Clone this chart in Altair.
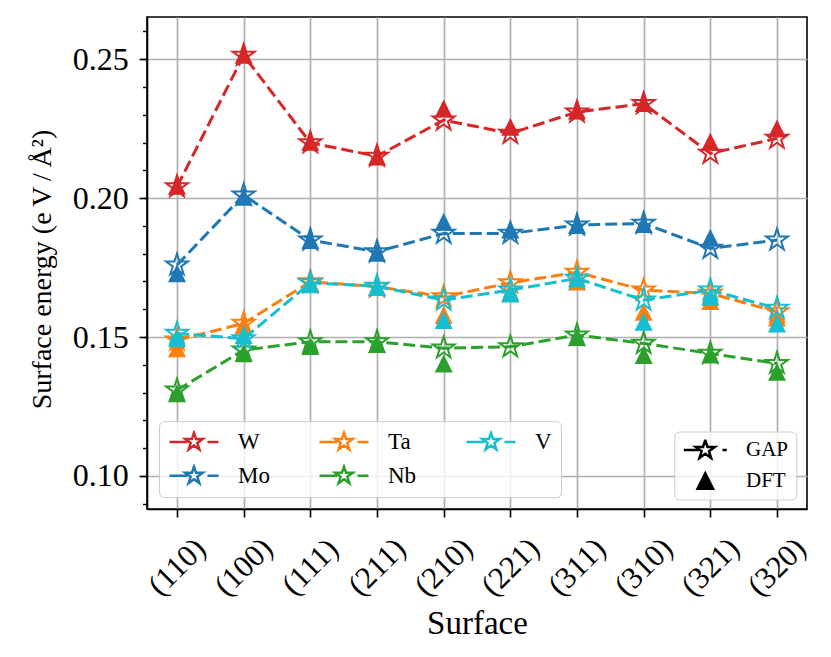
import math
import altair as alt
import pandas as pd

# ---------------- data ----------------
surfaces = ["(110)", "(100)", "(111)", "(211)", "(210)",
            "(221)", "(311)", "(310)", "(321)", "(320)"]
elements = ["W", "Mo", "Ta", "Nb", "V"]
element_colors = {"W": "#d62728", "Mo": "#1f77b4", "Ta": "#ff7f0e",
                  "Nb": "#2ca02c", "V": "#17becf"}

W_gap = [0.2041, 0.2514, 0.2199, 0.2151, 0.2281, 0.2233, 0.2310, 0.2340, 0.2161, 0.2215]
W_dft = [0.2045, 0.2516, 0.2203, 0.2150, 0.2323, 0.2257, 0.2315, 0.2342, 0.2203, 0.2251]
Mo_gap = [0.1759, 0.2011, 0.1849, 0.1807, 0.1873, 0.1873, 0.1903, 0.1909, 0.1819, 0.1849]
Mo_dft = [0.1730, 0.2005, 0.1849, 0.1803, 0.1915, 0.1887, 0.1903, 0.1907, 0.1857, None]
Ta_gap = [0.1489, 0.1549, 0.1699, 0.1681, 0.1645, 0.1695, 0.1733, 0.1669, 0.1657, 0.1591]
Ta_dft = [0.1460, 0.1543, 0.1695, 0.1680, 0.1579, 0.1660, 0.1700, 0.1591, 0.1630, 0.1570]
Nb_gap = [0.1309, 0.1453, 0.1483, 0.1483, 0.1460, 0.1465, 0.1507, 0.1477, 0.1441, 0.1405]
Nb_dft = [0.1298, 0.1442, 0.1468, 0.1475, 0.1405, None, 0.1500, 0.1435, 0.1437, 0.1375]
V_gap = [0.1513, 0.1494, 0.1695, 0.1683, 0.1633, 0.1669, 0.1711, 0.1633, 0.1669, 0.1603]
V_dft = [0.1496, 0.1507, 0.1690, 0.1680, 0.1561, 0.1657, 0.1712, 0.1555, 0.1645, 0.1549]

gap = {"W": W_gap, "Mo": Mo_gap, "Ta": Ta_gap, "Nb": Nb_gap, "V": V_gap}
dft = {"W": W_dft, "Mo": Mo_dft, "Ta": Ta_dft, "Nb": Nb_dft, "V": V_dft}

methods = ["GAP", "DFT"]

y_ticks = [0.10, 0.15, 0.20, 0.25]
y_minor = [0.09, 0.10, 0.11, 0.12, 0.13, 0.14, 0.15, 0.16, 0.17,
           0.18, 0.19, 0.20, 0.21, 0.22, 0.23, 0.24, 0.25, 0.26]

rows = []
for el in elements:
    for i, s in enumerate(surfaces):
        rows.append({"element": el, "surface": s, "idx": i,
                     "method": "GAP", "energy": gap[el][i]})
        if dft[el][i] is not None:
            rows.append({"element": el, "surface": s, "idx": i,
                         "method": "DFT", "energy": dft[el][i]})
df = pd.DataFrame(rows)

# ---------------- marker glyphs ----------------
def star(r):
    pts = []
    for k in range(10):
        ang = math.radians(-90 + 36 * k)
        rad = r if k % 2 == 0 else r * 0.381966
        pts.append(f"{rad * math.cos(ang):.4f},{rad * math.sin(ang):.4f}")
    return "M" + "L".join(pts) + "Z"

def solid_triangle(s):
    # nested outlines so that a stroked symbol reads as a filled triangle
    parts = []
    k = s
    while k > 0.01:
        parts.append(f"M0,{-k:.3f}L{k:.3f},{k:.3f}L{-k:.3f},{k:.3f}Z")
        k -= 0.06
    return "".join(parts)

STAR_MARK = star(1.0)
TRI_MARK = "M0,-1L1,1L-1,1Z"
COLOR_GLYPH = "M-1,0L-0.28,0M0.55,0L1,0" + star(0.375)
GAP_GLYPH = "M-1,0L-0.3,0M0.8,0L1,0" + star(0.465)
TRI_GLYPH = solid_triangle(0.36)

FONT = "Liberation Serif"

# ---------------- scales / axes ----------------
y_scale = alt.Scale(domain=[0.0881, 0.2652], nice=False, zero=False)
x_scale = alt.Scale(type="point", padding=0.45)
stroke_scale = alt.Scale(domain=elements,
                         range=[element_colors[e] for e in elements])

x_axis = alt.Axis(
    title="Surface", labelAngle=315, labelAlign="center", labelBaseline="middle",
    labelPadding=50, labelFont=FONT, labelFontSize=31, labelOverlap=False,
    labelFlush=False, tickSize=8, grid=True, titleFont=FONT, titleFontSize=33,
    titleX=330, titleY=124, titleBaseline="alphabetic",
)
y_axis = alt.Axis(
    title="Surface energy (e\u2009V\u2009/\u2009Å²)", values=y_ticks, format=".2f",
    labelFont=FONT, labelFontSize=32, labelPadding=10.7, tickSize=8, grid=True,
    titleFont=FONT, titleFontSize=28, titleX=-97, titleY=252, titleAngle=270,
    titleBaseline="alphabetic", titleAlign="center",
)
minor_axis = alt.Axis(
    values=y_minor, labels=False, ticks=True, tickSize=4.5, tickWidth=1.4,
    grid=False, domain=False, title=None, orient="left",
)

x_enc = alt.X("surface:N", sort=surfaces, scale=x_scale, axis=x_axis)
y_enc = alt.Y("energy:Q", scale=y_scale, axis=y_axis)

color_legend = alt.Legend(
    title=None, orient="none", legendX=12, legendY=404.2, columns=3,
    columnPadding=48, rowPadding=10, padding=9, clipHeight=23,
    symbolType=COLOR_GLYPH, symbolSize=2401, symbolStrokeWidth=2.5,
    symbolOpacity=1, labelFont=FONT, labelFontSize=23, labelOffset=18,
    labelColor="black", fillColor="rgba(255,255,255,0.8)",
    strokeColor="#cccccc", cornerRadius=5,
)
key_legend = alt.Legend(
    title=None, orient="none", legendX=527.3, legendY=414.5, padding=8,
    rowPadding=9, clipHeight=21, symbolSize=1849, symbolStrokeWidth=2.5,
    symbolOpacity=1, labelFont=FONT,
    labelFontSize=21, labelOffset=17.7, labelColor="black",
    fillColor="rgba(255,255,255,0.8)", strokeColor="#cccccc", cornerRadius=5,
)

base = alt.Chart(df)
layers = []
for el in elements:
    g = base.transform_filter((alt.datum.element == el) & (alt.datum.method == "GAP"))
    d = base.transform_filter((alt.datum.element == el) & (alt.datum.method == "DFT"))
    line = g.mark_line(strokeDash=[12, 5], strokeWidth=3,
                       color=element_colors[el]).encode(
        x=x_enc, y=y_enc, order=alt.Order("idx:Q"),
    )
    stars = g.mark_point(shape=STAR_MARK, filled=False, size=529,
                         strokeWidth=2, opacity=1).encode(
        x=x_enc, y=y_enc,
        stroke=alt.Stroke("element:N", scale=stroke_scale, legend=color_legend),
    )
    tris = d.mark_point(shape=TRI_MARK, filled=True, size=324, opacity=1,
                        color=element_colors[el]).encode(
        x=x_enc, y=y_enc,
    )
    layers += [line, stars, tris]

main = alt.layer(*layers)

key = base.mark_point(opacity=0, filled=False, color="black", strokeWidth=2.5).encode(
    y=alt.Y("energy:Q", scale=y_scale, axis=minor_axis),
    shape=alt.Shape("method:N", scale=alt.Scale(domain=methods, range=[GAP_GLYPH, TRI_GLYPH]),
                    legend=key_legend),
)

chart = alt.layer(main, key).resolve_axis(y="independent").properties(
    width=660, height=492,
    autosize=alt.AutoSizeParams(type="none"),
    padding={"left": 139, "top": 9, "right": 15, "bottom": 130},
).configure_view(
    stroke="black", strokeWidth=1.6
).configure_axis(
    labelFont=FONT, titleFont=FONT, labelColor="black", titleColor="black",
    titleFontWeight="normal", tickColor="black", tickWidth=1.6,
    domainColor="black", domainWidth=1.6, gridColor="#b0b0b0", gridWidth=1.7,
).configure_legend(
    labelFont=FONT
)

chart.save("out.html", embed_options={"renderer": "svg", "actions": False})
